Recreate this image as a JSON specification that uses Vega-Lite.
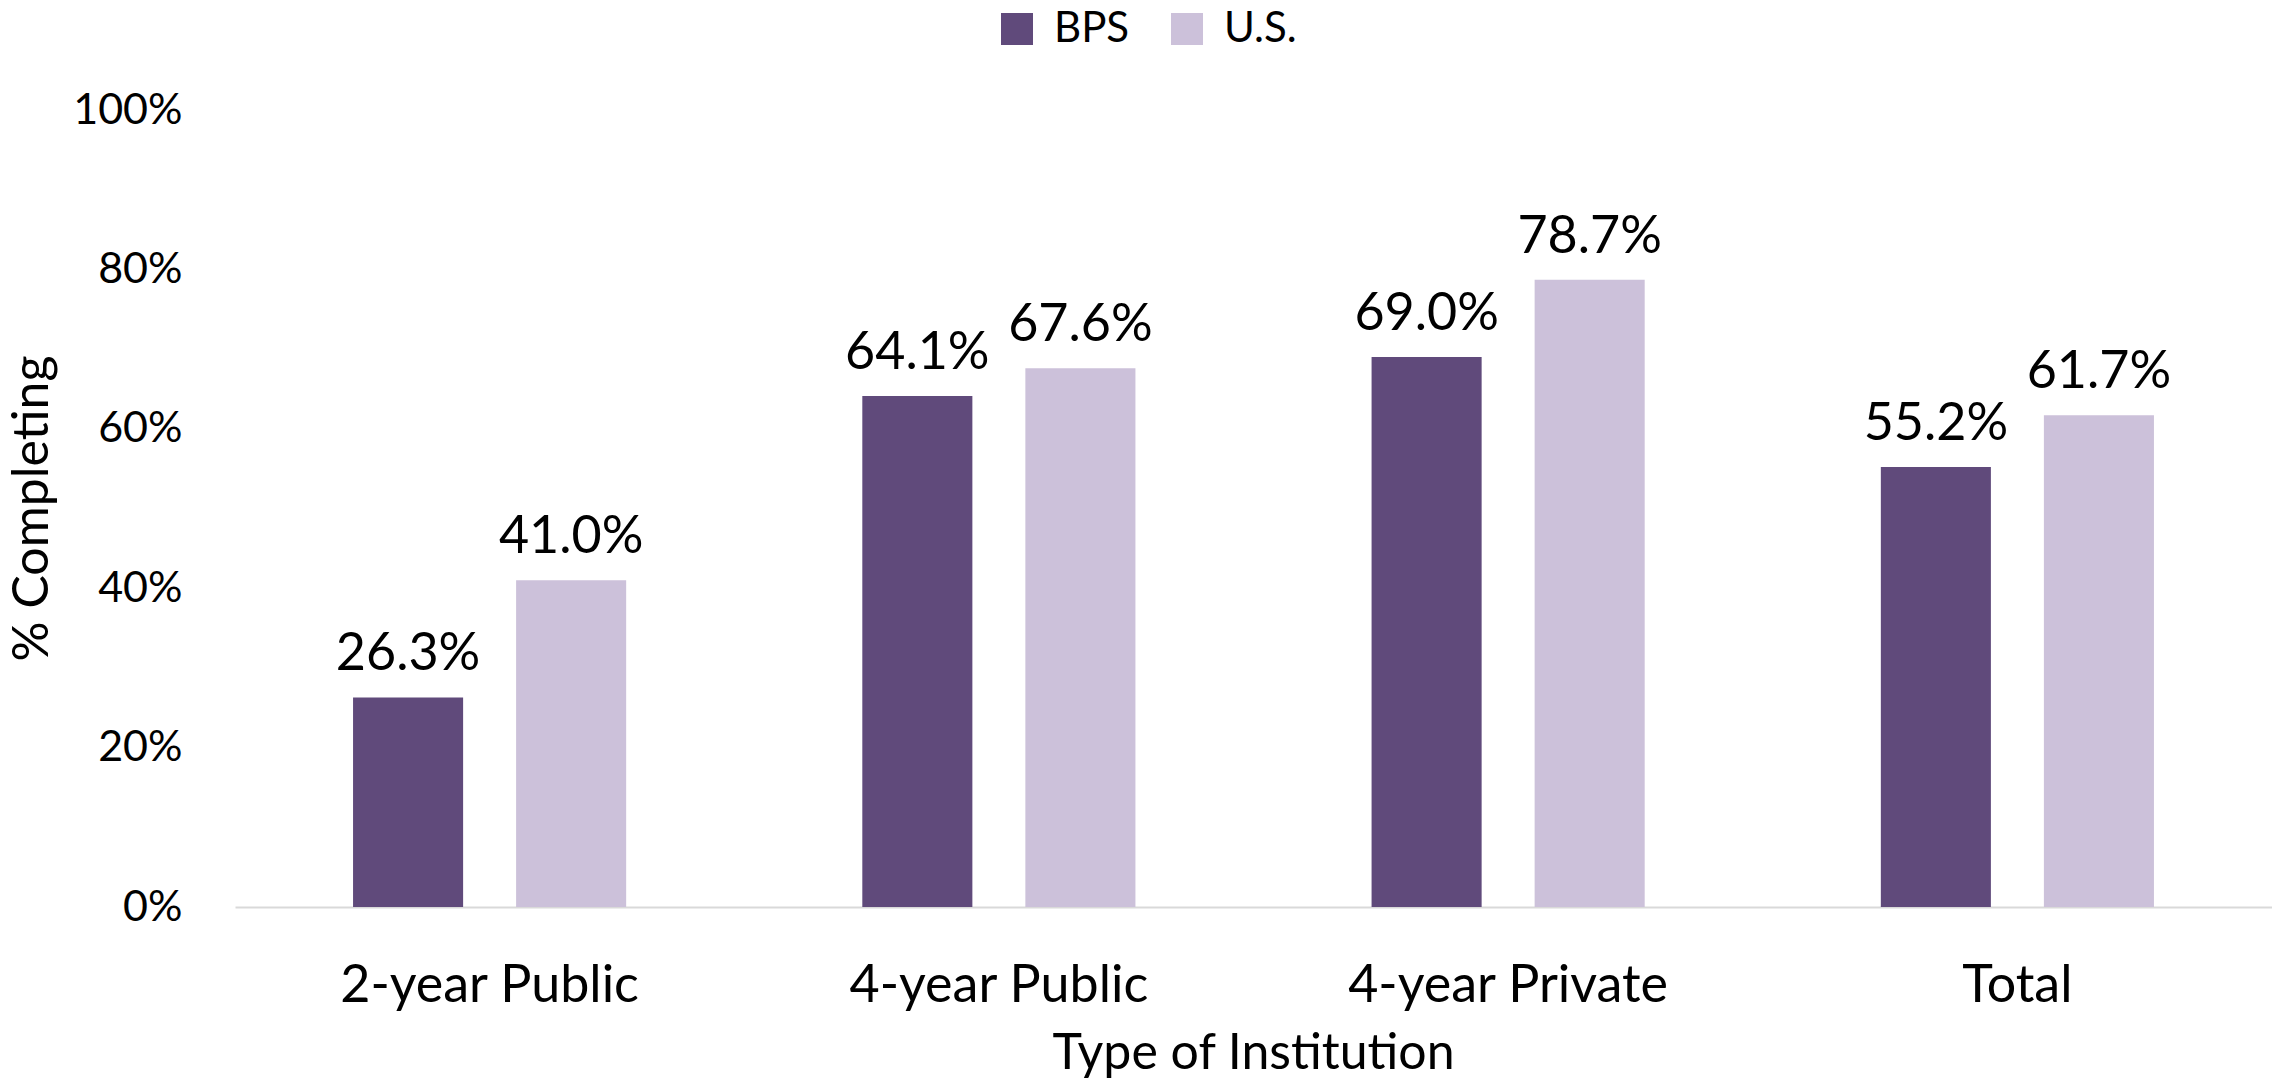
{
  "$schema": "https://vega.github.io/schema/vega-lite/v6.json",
  "width": 2037,
  "height": 797,
  "autosize": {"type": "none"},
  "padding": {"left": 235, "top": 110, "right": 0, "bottom": 174},
  "background": "white",
  "config": {
    "view": {"stroke": null},
    "font": "Lato",
    "axis": {"grid": false, "ticks": false, "labelColor": "#000000", "titleColor": "#000000", "labelFont": "Lato", "titleFont": "Lato", "titleFontWeight": "normal"},
    "legend": {"labelFont": "Lato", "labelColor": "#000000"}
  },
  "data": {
    "values": [
      {"type": "2-year Public", "group": "BPS", "value": 0.263},
      {"type": "2-year Public", "group": "U.S.", "value": 0.410},
      {"type": "4-year Public", "group": "BPS", "value": 0.641},
      {"type": "4-year Public", "group": "U.S.", "value": 0.676},
      {"type": "4-year Private", "group": "BPS", "value": 0.690},
      {"type": "4-year Private", "group": "U.S.", "value": 0.787},
      {"type": "Total", "group": "BPS", "value": 0.552},
      {"type": "Total", "group": "U.S.", "value": 0.617}
    ]
  },
  "encoding": {
    "x": {
      "field": "type",
      "type": "nominal",
      "sort": ["2-year Public", "4-year Public", "4-year Private", "Total"],
      "scale": {"paddingInner": 0.4637, "paddingOuter": 0.2318},
      "axis": {
        "title": "Type of Institution",
        "labelAngle": 0,
        "labelLimit": 0,
        "labelFontSize": 52,
        "labelBaseline": "alphabetic",
        "labelPadding": 94,
        "domainColor": "#D9D9D9",
        "domainWidth": 2,
        "titleFontSize": 50,
        "titleBaseline": "alphabetic",
        "titleY": 161,
        "titleX": 1018
      }
    },
    "xOffset": {
      "field": "group",
      "type": "nominal",
      "sort": ["BPS", "U.S."],
      "scale": {"paddingInner": 0.325, "paddingOuter": 0}
    },
    "y": {
      "field": "value",
      "type": "quantitative",
      "scale": {"domain": [0, 1]},
      "axis": {
        "title": "% Completing",
        "format": ".0%",
        "values": [0, 0.2, 0.4, 0.6, 0.8, 1.0],
        "domain": false,
        "labelFontSize": 43,
        "labelPadding": 53,
        "labelBaseline": "middle",
        "titleFontSize": 50,
        "titleAngle": -90,
        "titleX": -203,
        "titleY": 398,
        "titleAlign": "center",
        "titleBaseline": "middle"
      }
    }
  },
  "layer": [
    {
      "mark": {"type": "bar"},
      "encoding": {
        "color": {
          "field": "group",
          "type": "nominal",
          "sort": ["BPS", "U.S."],
          "scale": {"domain": ["BPS", "U.S."], "range": ["#604A7B", "#CCC1DA"]},
          "legend": {
            "title": null,
            "orient": "none",
            "direction": "horizontal",
            "legendX": 761,
            "legendY": -102,
            "padding": 0,
            "symbolType": "square",
            "symbolSize": 1024,
            "symbolStrokeWidth": 0,
            "labelFontSize": 42,
            "labelOffset": 16,
            "columnPadding": 36
          }
        }
      }
    },
    {
      "mark": {"type": "text", "baseline": "alphabetic", "dy": -27, "fontSize": 52, "font": "Lato", "color": "#000000"},
      "encoding": {
        "text": {"field": "value", "type": "quantitative", "format": ".1%"}
      }
    }
  ]
}
